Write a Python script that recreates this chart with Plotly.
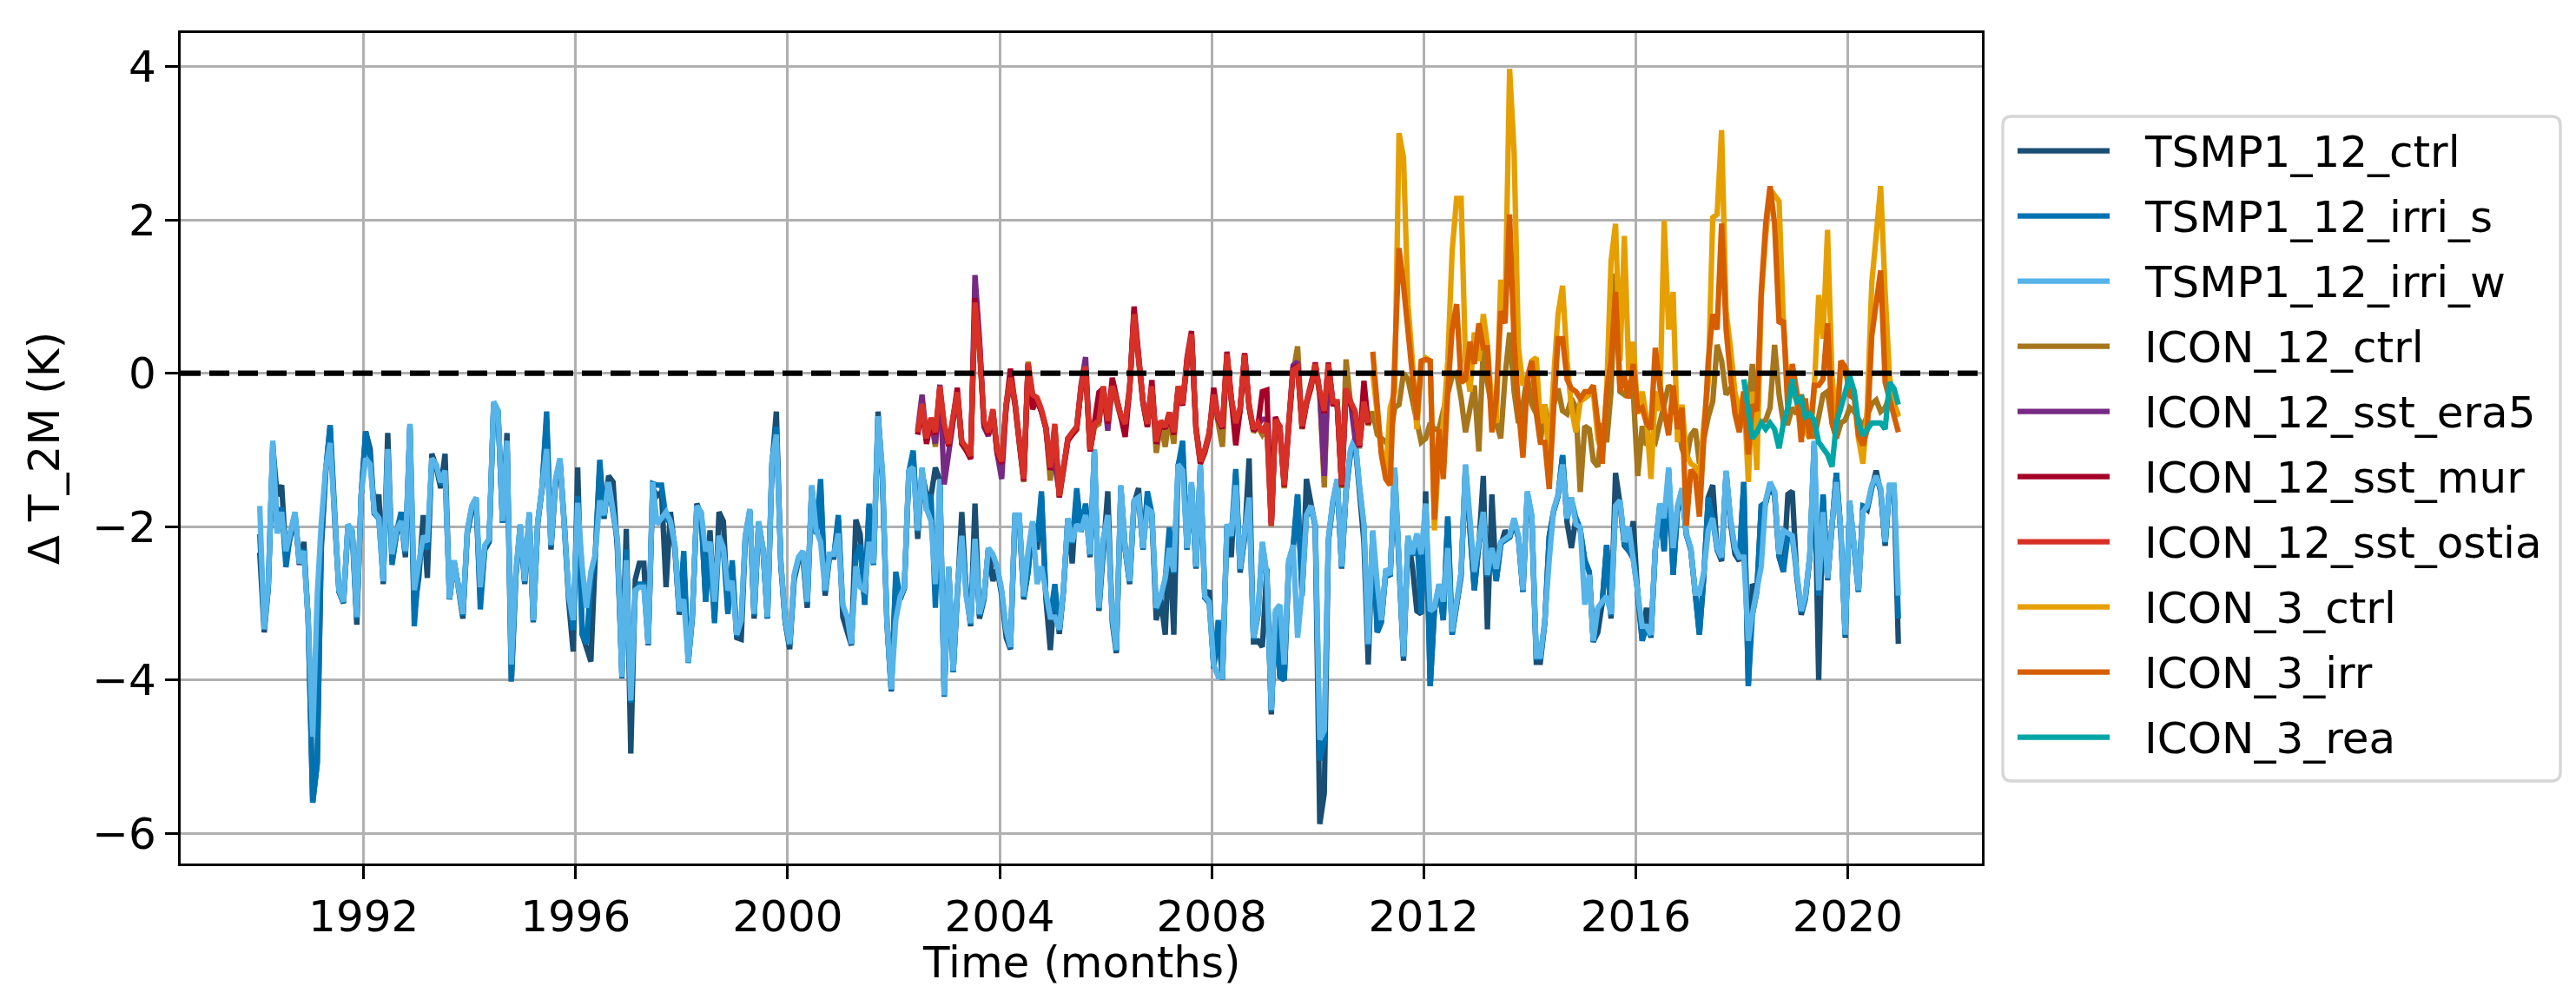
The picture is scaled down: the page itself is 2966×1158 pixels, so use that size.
import pandas as pd
import plotly.graph_objects as go

# ---------------- data (monthly anomalies, K) ----------------
# TSMP1 series: Jan 1990 .. Dec 2020 (one row per year)
tsmp_ctrl = [
    -2.34,-3.38,-2.80,-0.95,-1.60,-1.46,-2.40,-2.10,-1.85,-2.50,-2.20,-3.25,
    -5.60,-5.09,-2.30,-1.30,-0.68,-1.90,-2.85,-3.00,-2.00,-2.10,-3.28,-1.60,
    -0.76,-0.99,-1.85,-1.58,-2.75,-0.78,-2.45,-2.10,-1.90,-2.40,-0.70,-3.10,
    -2.67,-1.85,-2.67,-1.05,-1.22,-1.50,-1.05,-2.95,-2.45,-2.80,-3.20,-2.10,
    -1.80,-1.70,-2.95,-2.30,-2.20,-0.40,-0.50,-1.95,-0.78,-4.02,-2.65,-2.00,
    -2.75,-1.85,-3.25,-1.95,-1.50,-0.60,-2.30,-1.45,-1.15,-2.00,-3.00,-3.63,
    -1.23,-3.40,-3.57,-3.76,-2.40,-1.20,-1.90,-1.34,-1.42,-2.32,-3.90,-2.03,
    -4.96,-2.69,-2.48,-2.48,-3.55,-1.50,-1.60,-1.55,-2.79,-1.81,-2.30,-3.15,
    -2.50,-3.75,-3.20,-1.70,-1.85,-2.98,-2.05,-3.20,-1.81,-1.93,-3.10,-2.50,
    -3.45,-3.47,-2.15,-1.80,-3.20,-1.95,-2.30,-3.20,-1.20,-0.50,-2.50,-3.25,
    -3.60,-2.70,-2.45,-2.40,-3.06,-1.50,-2.10,-1.50,-2.90,-2.40,-2.40,-1.90,
    -3.18,-3.38,-3.55,-1.91,-2.10,-3.02,-1.75,-2.50,-0.50,-1.40,-3.25,-4.15,
    -2.70,-2.95,-2.80,-1.30,-1.05,-2.16,-1.30,-1.58,-1.60,-1.23,-1.40,-4.20,
    -2.55,-3.90,-2.85,-1.81,-2.85,-3.30,-1.70,-3.20,-2.95,-2.30,-2.71,-2.55,
    -2.90,-3.45,-3.60,-1.90,-1.90,-2.95,-2.59,-1.95,-2.30,-1.60,-2.95,-3.61,
    -2.80,-3.40,-2.85,-1.90,-2.48,-1.55,-2.05,-1.72,-2.40,-1.05,-3.10,-2.20,
    -1.54,-3.25,-3.65,-1.50,-2.30,-2.75,-1.70,-1.50,-2.30,-1.60,-1.85,-3.22,
    -2.95,-3.41,-2.10,-3.41,-1.20,-1.00,-2.30,-1.45,-2.55,-1.25,-2.95,-2.83,
    -3.85,-3.30,-4.00,-2.00,-2.40,-1.30,-2.60,-2.15,-1.11,-3.50,-3.49,-3.57,
    -2.55,-4.45,-3.15,-3.96,-4.00,-2.50,-2.30,-1.58,-2.90,-1.38,-1.66,-2.00,
    -5.88,-5.48,-2.20,-1.70,-1.40,-2.55,-1.55,-1.05,-0.90,-1.50,-2.20,-3.80,
    -2.10,-3.38,-3.25,-2.60,-2.65,-1.30,-2.50,-3.75,-2.15,-2.52,-3.10,-3.14,
    -1.54,-4.08,-3.10,-2.80,-3.22,-1.87,-3.41,-3.05,-2.65,-1.25,-2.05,-2.83,
    -2.25,-1.34,-3.34,-1.58,-2.71,-2.25,-2.05,-2.15,-1.95,-2.15,-2.85,-1.60,
    -1.90,-3.77,-3.77,-3.25,-2.13,-1.80,-1.60,-1.07,-1.95,-2.28,-1.89,-2.05,
    -2.44,-2.59,-3.50,-3.38,-3.00,-2.24,-3.20,-1.30,-1.70,-2.25,-2.32,-1.93,
    -2.90,-3.49,-3.06,-3.45,-2.30,-1.75,-2.32,-1.30,-2.63,-1.80,-1.55,-2.10,
    -2.30,-2.90,-3.41,-2.65,-1.62,-1.46,-2.30,-2.45,-1.30,-1.95,-2.36,-2.45,
    -1.42,-4.08,-2.75,-2.85,-1.73,-1.70,-1.45,-1.60,-2.40,-2.59,-1.58,-1.54,
    -2.65,-3.15,-2.95,-2.40,-0.95,-4.00,-1.58,-2.70,-2.00,-1.30,-2.10,-3.45,
    -1.70,-2.25,-2.85,-1.73,-1.78,-1.50,-1.27,-1.55,-2.25,-1.50,-1.50,-3.53,
]
tsmp_irri_s = [
    -2.10,-3.30,-2.78,-0.92,-2.05,-1.75,-2.53,-2.08,-1.83,-2.45,-2.30,-3.20,
    -5.60,-5.09,-2.20,-1.25,-0.68,-1.88,-2.85,-2.99,-1.98,-2.07,-3.20,-1.60,
    -0.76,-1.10,-1.83,-1.90,-2.72,-1.00,-2.50,-2.07,-1.81,-2.35,-0.68,-3.30,
    -2.50,-2.15,-2.30,-1.15,-1.20,-1.45,-1.30,-2.95,-2.46,-2.77,-3.16,-2.07,
    -1.75,-1.65,-3.08,-2.26,-2.18,-0.40,-0.50,-1.95,-0.90,-4.02,-2.62,-2.00,
    -2.73,-1.83,-3.24,-1.95,-1.48,-0.50,-2.26,-1.40,-1.13,-1.95,-2.93,-3.35,
    -1.60,-3.41,-3.53,-2.70,-2.38,-1.13,-1.87,-1.44,-1.87,-2.20,-3.98,-2.30,
    -4.30,-2.85,-2.75,-2.75,-3.54,-1.44,-1.46,-1.46,-1.90,-1.95,-2.26,-3.12,
    -2.32,-3.78,-3.16,-1.75,-1.83,-2.98,-2.22,-3.26,-2.14,-2.30,-3.14,-2.44,
    -3.43,-3.24,-2.14,-1.79,-3.16,-1.95,-2.30,-3.20,-1.17,-0.70,-2.46,-3.24,
    -3.55,-2.65,-2.42,-2.34,-3.00,-1.48,-2.07,-1.38,-2.85,-2.38,-2.38,-1.85,
    -3.05,-3.20,-3.54,-2.40,-2.24,-3.02,-1.70,-2.50,-0.58,-1.30,-3.24,-4.14,
    -2.59,-2.93,-2.81,-1.29,-1.01,-2.07,-1.25,-1.79,-1.58,-3.06,-1.40,-4.22,
    -2.54,-3.90,-2.85,-2.14,-2.79,-3.28,-2.18,-3.16,-2.93,-2.30,-2.38,-2.54,
    -2.85,-3.36,-3.59,-1.87,-1.87,-2.93,-2.59,-1.95,-2.20,-1.54,-2.93,-3.20,
    -2.75,-3.36,-2.85,-1.91,-2.22,-1.50,-2.07,-1.70,-2.38,-1.01,-3.08,-2.18,
    -1.87,-3.20,-3.63,-1.48,-2.30,-2.73,-1.68,-1.64,-2.30,-1.54,-1.83,-3.08,
    -2.93,-2.69,-2.01,-2.61,-1.21,-0.88,-2.30,-1.44,-2.54,-1.21,-2.93,-3.00,
    -3.82,-3.22,-3.98,-1.99,-2.14,-1.25,-2.57,-2.14,-1.64,-3.47,-3.16,-2.22,
    -2.65,-4.41,-3.12,-3.96,-4.00,-2.46,-2.26,-1.58,-2.85,-1.87,-1.75,-1.99,
    -5.05,-4.80,-2.18,-1.68,-1.40,-2.54,-1.52,-1.01,-0.86,-1.48,-1.99,-3.55,
    -2.07,-3.38,-3.24,-2.57,-2.65,-1.25,-2.46,-3.71,-2.14,-2.38,-2.11,-3.14,
    -1.72,-4.08,-3.08,-2.77,-3.22,-1.87,-3.41,-3.04,-2.61,-1.21,-2.03,-2.83,
    -2.22,-1.83,-2.65,-2.30,-2.71,-2.22,-2.18,-2.14,-1.91,-2.14,-2.85,-1.56,
    -1.87,-3.71,-3.71,-3.24,-2.13,-1.79,-1.60,-1.07,-1.91,-1.64,-1.89,-2.03,
    -2.44,-2.59,-3.51,-3.08,-3.00,-2.24,-3.16,-1.75,-1.68,-2.22,-2.32,-2.42,
    -2.85,-3.49,-3.32,-3.43,-2.30,-1.72,-2.32,-1.25,-2.63,-1.75,-1.52,-2.11,
    -2.30,-2.89,-3.41,-2.61,-1.62,-1.91,-2.30,-2.42,-1.29,-1.91,-2.30,-2.42,
    -1.42,-4.08,-3.16,-2.85,-1.73,-1.68,-1.44,-1.56,-2.38,-2.59,-2.11,-2.14,
    -2.61,-3.12,-2.93,-2.38,-0.90,-2.90,-1.58,-2.69,-1.99,-1.30,-2.07,-3.43,
    -1.68,-2.22,-2.85,-1.73,-1.75,-1.48,-1.36,-1.52,-2.22,-1.48,-1.48,-3.20,
]
tsmp_irri_w = [
    -1.73,-3.34,-2.75,-0.88,-2.09,-1.81,-2.32,-2.05,-1.81,-2.48,-2.32,-3.22,
    -4.74,-2.90,-1.95,-1.23,-0.91,-1.85,-2.83,-2.98,-1.97,-2.05,-3.18,-1.58,
    -1.11,-1.19,-1.81,-1.89,-2.71,-0.99,-2.36,-2.05,-1.93,-2.32,-0.66,-2.83,
    -2.44,-2.12,-2.20,-1.11,-1.19,-1.42,-1.27,-2.94,-2.44,-2.75,-3.14,-2.05,
    -1.73,-1.62,-2.79,-2.24,-2.16,-0.37,-0.48,-1.93,-0.88,-3.80,-2.59,-1.97,
    -2.71,-1.81,-3.22,-1.93,-1.46,-0.99,-2.24,-1.38,-1.11,-1.93,-2.91,-3.22,
    -1.69,-2.52,-3.06,-2.59,-2.36,-1.66,-1.85,-1.42,-1.85,-2.16,-3.96,-2.44,
    -4.27,-2.83,-2.79,-2.79,-3.53,-1.42,-1.97,-1.89,-1.81,-1.93,-2.24,-3.10,
    -2.95,-3.77,-3.14,-1.73,-1.81,-2.32,-2.20,-2.98,-2.12,-2.28,-2.83,-2.71,
    -3.41,-3.22,-2.12,-1.77,-3.14,-1.93,-2.28,-3.18,-1.15,-0.80,-2.44,-3.22,
    -3.53,-2.63,-2.40,-2.32,-2.98,-1.46,-2.05,-2.20,-2.83,-2.36,-2.36,-2.09,
    -3.02,-3.18,-3.53,-2.52,-2.79,-2.83,-2.20,-2.48,-0.56,-1.27,-3.22,-4.12,
    -3.22,-2.91,-2.79,-1.27,-1.23,-2.05,-1.23,-1.77,-1.93,-2.75,-1.38,-4.20,
    -2.52,-3.88,-2.83,-2.12,-2.91,-3.26,-2.16,-3.14,-2.91,-2.28,-2.36,-2.52,
    -2.83,-3.34,-3.57,-1.85,-1.85,-2.91,-2.32,-1.93,-2.75,-2.52,-2.91,-3.18,
    -3.18,-3.34,-2.83,-1.89,-2.20,-1.97,-2.05,-1.85,-2.36,-0.99,-3.06,-2.16,
    -1.85,-3.18,-3.61,-1.46,-2.28,-2.71,-1.66,-1.62,-2.28,-1.77,-1.81,-3.06,
    -2.91,-2.67,-2.28,-2.59,-1.19,-1.27,-2.28,-1.42,-2.52,-1.19,-2.91,-2.98,
    -3.80,-3.96,-3.96,-1.97,-2.12,-1.46,-2.55,-2.12,-1.62,-3.45,-3.14,-2.20,
    -2.63,-4.39,-3.10,-3.02,-3.80,-2.44,-2.24,-3.45,-2.83,-1.85,-1.73,-1.97,
    -4.78,-4.66,-2.16,-1.66,-1.38,-2.52,-1.50,-0.99,-0.84,-1.46,-1.97,-3.53,
    -2.05,-2.75,-3.22,-2.55,-2.63,-1.23,-2.44,-3.69,-2.12,-2.36,-2.09,-2.36,
    -1.70,-3.10,-3.06,-2.75,-2.98,-2.28,-3.37,-3.02,-2.59,-1.19,-2.01,-2.59,
    -2.20,-1.81,-2.63,-2.28,-2.55,-2.20,-2.16,-2.12,-1.89,-2.12,-2.83,-1.54,
    -1.85,-3.69,-3.69,-3.22,-2.44,-1.77,-1.58,-1.19,-1.89,-1.62,-1.97,-2.01,
    -3.02,-2.63,-3.49,-3.06,-2.98,-2.91,-3.14,-1.73,-1.66,-2.20,-2.01,-2.40,
    -2.83,-3.30,-3.30,-3.41,-2.28,-1.70,-1.89,-1.23,-2.28,-1.73,-1.50,-2.09,
    -2.28,-2.87,-2.87,-2.59,-2.05,-1.89,-2.28,-2.40,-1.27,-1.89,-2.28,-2.40,
    -2.40,-3.49,-3.14,-2.83,-2.52,-1.66,-1.42,-1.54,-2.36,-2.05,-2.09,-2.12,
    -2.59,-3.10,-2.91,-2.36,-0.88,-2.83,-1.81,-2.67,-1.97,-1.42,-2.05,-3.41,
    -1.66,-2.20,-2.83,-1.81,-1.73,-1.46,-1.34,-1.50,-2.20,-1.46,-1.46,-2.90,
]

# ICON 12 km SST runs: Jun 2002 .. Dec 2010
icon12_era5 = [
    -0.75,-0.28,-0.85,-0.60,-0.92,-0.15,-1.45,
    -1.00,-0.55,-0.25,-0.90,-0.98,-1.10,1.28,0.45,-0.70,-0.82,-0.50,-1.05,
    -1.38,-0.42,-0.08,-0.38,-0.90,-1.40,0.10,-0.30,-0.34,-0.50,-0.72,-1.25,
    -1.19,-1.55,-1.25,-0.85,-0.78,-0.70,-0.15,0.21,-1.00,-0.66,-0.62,-0.18,
    -0.75,-0.15,-0.33,-0.55,-0.66,-0.18,0.80,0.15,-0.38,-0.68,-0.18,-0.92,
    -0.64,-0.72,-0.52,-0.78,-0.18,-0.42,0.15,0.50,-0.72,-1.12,-1.00,-0.78,
    -0.30,-0.60,-0.72,0.22,-0.34,-0.70,-0.48,0.26,-0.42,-0.75,-0.66,-0.60,
    -0.60,-1.95,-0.62,-0.70,-1.42,-0.64,0.10,0.15,-0.68,-0.38,-0.14,0.10,
    -0.26,-1.34,0.10,-0.36,-0.40,-1.45,-0.22,-0.38,-0.85,-0.96,-0.38,-0.66,
]
icon12_mur = [
    -0.80,-0.45,-0.92,-0.62,-0.80,-0.20,-0.70,
    -0.95,-0.58,-0.19,-0.92,-1.00,-1.12,0.98,0.38,-0.66,-0.80,-0.50,-1.04,
    -1.18,-0.42,0.06,-0.38,-0.92,-1.40,0.12,-0.47,-0.34,-0.50,-0.72,-1.26,
    -0.70,-1.62,-1.26,-0.88,-0.80,-0.72,-0.20,0.07,-1.02,-0.68,-0.25,-0.20,
    -0.66,-0.06,-0.34,-0.57,-0.83,-0.20,0.87,0.20,-0.38,-0.70,-0.09,-0.92,
    -0.65,-0.72,-0.54,-0.80,-0.20,-0.42,0.20,0.55,-0.72,-1.18,-1.02,-0.80,
    -0.19,-0.60,-0.72,0.28,-0.34,-0.94,-0.48,0.26,-0.44,-0.75,-0.68,-0.24,
    -0.22,-1.97,-0.57,-0.72,-1.48,-0.68,0.06,0.10,-0.72,-0.40,-0.18,0.14,
    -0.27,-0.52,0.14,-0.40,-0.40,-1.48,-0.22,-0.40,-0.52,-0.96,-0.10,-0.67,
]
icon12_ostia = [
    -0.77,-0.40,-0.85,-0.58,-0.77,-0.17,-0.66,
    -0.92,-0.55,-0.25,-0.89,-0.96,-1.08,0.92,0.36,-0.62,-0.77,-0.47,-1.00,
    -1.15,-0.40,-0.06,-0.36,-0.89,-1.38,0.13,-0.28,-0.32,-0.47,-0.70,-1.23,
    -0.66,-1.60,-1.23,-0.85,-0.77,-0.70,-0.17,0.09,-1.00,-0.66,-0.62,-0.17,
    -0.62,-0.17,-0.32,-0.55,-0.66,-0.17,0.77,0.17,-0.36,-0.66,-0.17,-0.89,
    -0.62,-0.70,-0.51,-0.77,-0.17,-0.40,0.17,0.51,-0.70,-1.15,-1.00,-0.77,
    -0.28,-0.58,-0.70,0.25,-0.32,-0.65,-0.45,0.24,-0.41,-0.73,-0.65,-0.77,
    -0.65,-1.99,-0.61,-0.69,-1.46,-0.65,0.04,0.08,-0.69,-0.37,-0.16,0.12,
    -0.24,-0.49,0.12,-0.37,-0.37,-1.46,-0.20,-0.37,-0.49,-0.94,-0.37,-0.65,
]
# ICON 12 km control: Jun 2002 .. Dec 2020
icon12_ctrl = [
    -0.80,-0.42,-0.88,-0.60,-0.96,-0.20,-0.70,
    -0.95,-0.58,-0.28,-0.92,-1.00,-1.10,0.85,0.30,-0.66,-0.80,-0.50,-1.05,
    -1.18,-0.45,-0.10,-0.40,-0.92,-1.42,0.15,-0.30,-0.36,-0.50,-0.72,-1.40,
    -0.70,-1.62,-1.27,-0.88,-0.80,-0.74,-0.20,0.05,-1.02,-0.70,-0.66,-0.20,
    -0.66,-0.20,-0.36,-0.58,-0.70,-0.20,0.72,0.12,-0.40,-0.70,-0.20,-1.04,
    -0.66,-0.96,-0.55,-0.92,-0.20,-0.32,0.12,0.48,-0.74,-1.18,-1.04,-0.80,
    -0.32,-0.62,-0.96,0.20,-0.36,-0.70,-0.50,0.20,-0.45,-0.77,-0.70,-0.80,
    -0.70,-2.00,-0.65,-0.73,-1.50,-0.70,0.00,0.35,-0.73,-0.40,-0.20,0.08,
    -0.28,-1.49,0.08,-0.40,-0.42,-1.50,0.18,-0.40,-0.52,-0.98,-0.40,-0.68,
    -0.50,-0.80,-0.85,-0.90,-0.85,-0.45,-0.41,0.00,-0.08,-0.33,-0.61,-0.90,
    -0.85,-0.65,-0.73,-0.73,-0.49,-0.24,-0.04,0.00,-0.33,-0.77,-0.49,-0.16,
    -1.02,0.33,-0.12,-0.45,-0.65,-0.85,-0.04,0.53,-0.24,-0.65,-0.41,-0.04,
    -0.41,-0.53,-0.90,-0.41,-0.73,-0.41,-0.20,-0.49,-0.53,-0.33,-0.45,-1.55,
    -0.69,-0.73,-1.14,-1.22,-0.65,-0.90,-0.24,1.30,-0.24,-0.28,-0.16,-0.24,
    -1.34,-0.69,-0.94,-0.85,-0.90,-0.65,-0.41,-0.16,-0.24,-0.65,-0.98,-1.14,
    -0.81,-0.73,-1.18,-0.85,-0.57,-0.37,0.37,0.16,-0.28,-0.20,-0.28,-0.73,
    -0.57,-0.41,0.12,-0.65,-0.65,-0.61,-0.45,0.37,-0.28,-0.65,-0.65,-0.45,
    -0.53,-0.28,-0.45,-0.65,-0.85,-0.57,-0.28,-0.24,-0.65,-0.85,-0.65,-0.61,
    -0.45,-0.50,-0.60,-0.70,-0.55,-0.40,-0.35,-0.50,-0.45,-0.30,-0.40,-0.55,
]
# ICON 3 km runs: Jan 2011 .. Dec 2020
icon3_ctrl = [
    0.00,-0.60,-1.00,-1.30,-0.45,-0.24,3.13,2.81,0.90,0.16,-0.73,0.12,
    0.20,0.16,-2.05,-1.02,-0.65,0.16,1.59,2.28,2.28,0.16,-0.24,0.53,
    0.16,0.77,0.37,-0.45,-0.65,1.22,0.77,3.97,2.89,0.33,-0.16,-0.04,
    0.16,0.20,-0.65,-0.41,-1.14,-0.04,0.77,1.14,0.16,-0.45,-0.77,-0.37,
    -0.33,-0.29,-0.24,-0.85,-1.06,-0.24,1.46,1.95,0.16,1.79,-0.04,0.41,
    -0.53,-0.24,-0.57,-1.38,-0.24,-0.49,1.99,0.57,1.06,-0.90,-0.41,-1.06,
    -1.18,-1.22,-1.38,-0.65,-0.12,2.03,2.07,3.17,0.81,0.33,-0.24,-0.53,
    -0.24,-1.42,-0.24,-1.26,0.98,1.79,2.40,2.32,2.24,0.65,-0.24,-0.24,
    -0.37,-0.65,-0.73,-0.85,-0.24,1.02,0.45,1.87,-0.04,-0.65,0.16,0.08,
    -0.08,-0.24,-0.85,-1.18,-0.45,1.18,1.79,2.44,1.06,-0.04,-0.41,-0.57,
]
icon3_irr = [
    0.28,-0.45,-1.06,-1.38,-1.46,0.16,1.63,1.14,0.49,-0.08,-0.61,0.16,
    0.18,0.16,-1.91,-0.73,-1.38,-0.24,0.57,0.90,-0.12,-0.08,0.41,0.12,
    0.65,0.33,0.33,-0.77,-0.33,0.81,0.65,2.07,0.41,-0.45,-1.10,-0.08,
    0.16,-0.45,-0.90,-0.90,-1.51,-0.45,0.45,0.45,-0.08,-0.20,-0.24,-0.33,
    -0.24,-0.24,-0.16,-0.65,-1.18,-0.24,0.16,1.06,-0.24,-0.04,-0.33,0.12,
    -0.49,-0.45,-0.65,-0.73,0.33,-0.16,-0.45,-0.81,-0.16,-0.73,-0.45,-1.99,
    -1.26,-1.34,-1.87,-0.90,0.16,0.77,0.57,1.95,0.57,-0.04,-0.53,-0.77,
    -0.24,-1.06,-0.41,-0.49,1.06,1.95,2.44,1.95,0.65,0.69,-0.49,0.12,
    -0.24,-0.90,-0.33,-0.85,-0.16,-0.16,-0.08,0.65,-0.65,-0.85,0.16,0.08,
    -0.29,-0.33,-0.81,-0.94,-0.73,0.49,0.94,1.34,-0.12,-0.33,-0.61,-0.77,
]
# ICON 3 km reanalysis-driven run: Jan 2018 .. Dec 2020
icon3_rea = [
    -0.08,-0.49,-0.85,-0.77,-0.65,-0.73,-0.65,-0.73,-0.98,-0.65,-0.45,-0.08,
    -0.37,-0.33,-0.57,-0.53,-0.61,-0.90,-0.98,-1.06,-1.22,-0.65,-0.45,-0.24,
    -0.04,-0.24,-0.65,-0.81,-0.73,-0.65,-0.65,-0.65,-0.73,-0.12,-0.20,-0.41,
]

series_names = ["TSMP1_12_ctrl", "TSMP1_12_irri_s", "TSMP1_12_irri_w",
                "ICON_12_ctrl", "ICON_12_sst_era5", "ICON_12_sst_mur",
                "ICON_12_sst_ostia", "ICON_3_ctrl", "ICON_3_irr", "ICON_3_rea"]
series_start = ["1990-01", "1990-01", "1990-01",
                "2002-06", "2002-06", "2002-06", "2002-06",
                "2011-01", "2011-01", "2018-01"]
series_values = [tsmp_ctrl, tsmp_irri_s, tsmp_irri_w,
                 icon12_ctrl, icon12_era5, icon12_mur, icon12_ostia,
                 icon3_ctrl, icon3_irr, icon3_rea]
series_colors = ["#1a4e72", "#0072B2", "#56B4E9",
                 "#A6761D", "#762A83", "#A50026", "#D73027",
                 "#E69F00", "#D55E00", "#00A6A6"]

tick_years = [1992, 1996, 2000, 2004, 2008, 2012, 2016, 2020]
y_ticks = [-6, -4, -2, 0, 2, 4]
x_label = "Time (months)"
y_label = "\u0394 T_2M (K)"

# ---------------- geometry (pixels) ----------------
W, H = 2966, 1158
PL, PR, PT, PB = 200, 2274, 30, 986          # plot area edges
PW, PH = PR - PL, PB - PT


def xp(px):
    return (px - PL) / PW


def yp(py):
    return (PB - py) / PH


FONT = "DejaVu Sans"
LW = 6.25

fig = go.Figure()
for name, start, vals, col in zip(series_names, series_start, series_values, series_colors):
    dates = pd.date_range(start=start + "-01", periods=len(vals), freq="MS") + pd.Timedelta(days=14)
    fig.add_trace(go.Scatter(
        x=dates, y=vals, mode="lines", name=name, showlegend=False,
        line=dict(color=col, width=LW),
    ))

shapes = []
# zero reference line (dashed, drawn above the series)
shapes.append(dict(type="line", xref="paper", x0=0, x1=1, yref="y", y0=0, y1=0,
                   line=dict(color="black", width=LW, dash="23px,10px"), layer="above"))

# legend box (rounded frame, like matplotlib's fancybox)
LL, LR, LT, LB, RAD = 2298, 2940, 126, 891, 10
path = (f"M{xp(LL+RAD)},{yp(LT)} H{xp(LR-RAD)} Q{xp(LR)},{yp(LT)} {xp(LR)},{yp(LT+RAD)} "
        f"V{yp(LB-RAD)} Q{xp(LR)},{yp(LB)} {xp(LR-RAD)},{yp(LB)} "
        f"H{xp(LL+RAD)} Q{xp(LL)},{yp(LB)} {xp(LL)},{yp(LB-RAD)} "
        f"V{yp(LT+RAD)} Q{xp(LL)},{yp(LT)} {xp(LL+RAD)},{yp(LT)} Z")
shapes.append(dict(type="path", xref="paper", yref="paper", path=path,
                   fillcolor="rgba(255,255,255,0.8)",
                   line=dict(color="rgba(204,204,204,0.8)", width=3.3), layer="above"))

annotations = []
ENTRY0, ENTRY_STEP = 165.7, 75.0
for i, (name, col) in enumerate(zip(series_names, series_colors)):
    ypix = ENTRY0 + i * ENTRY_STEP
    shapes.append(dict(type="line", xref="paper", yref="paper",
                       x0=xp(2315), x1=xp(2421), y0=yp(ypix), y1=yp(ypix),
                       line=dict(color=col, width=LW), layer="above"))
    annotations.append(dict(text=name, xref="paper", yref="paper",
                            x=xp(2459), y=yp(ypix + 1), xanchor="left", yanchor="middle",
                            showarrow=False, font=dict(family=FONT, size=50, color="black")))

# x-axis label, placed as matplotlib does (below the tick labels)
annotations.append(dict(text=x_label, xref="paper", yref="paper",
                        x=0.5, y=yp(1100), xanchor="center", yanchor="middle",
                        showarrow=False, font=dict(family=FONT, size=50, color="black")))

axis_common = dict(
    showline=True, linecolor="black", linewidth=3.3, mirror=True,
    showgrid=True, gridcolor="#b0b0b0", gridwidth=3.3, zeroline=False,
    ticks="outside", ticklen=15, tickwidth=3.3, tickcolor="black",
    tickfont=dict(family=FONT, size=50, color="black"),
)

fig.update_layout(
    width=W, height=H,
    margin=dict(l=PL, r=W - PR, t=PT, b=H - PB),
    paper_bgcolor="white", plot_bgcolor="white",
    font=dict(family=FONT, size=50, color="black"),
    showlegend=False,
    xaxis=dict(
        type="date",
        range=["1988-07-19", "2022-07-14"],
        tickvals=[f"{y}-01-01" for y in tick_years],
        ticktext=[str(y) for y in tick_years],
        **axis_common,
    ),
    yaxis=dict(
        range=[-6.395, 4.437],
        tickvals=y_ticks,
        ticktext=[("\u2212" + str(abs(v))) if v < 0 else str(v) for v in y_ticks],
        title=dict(text=y_label, font=dict(family=FONT, size=50), standoff=22),
        **axis_common,
    ),
    shapes=shapes,
    annotations=annotations,
)

fig.write_html("out.html")
